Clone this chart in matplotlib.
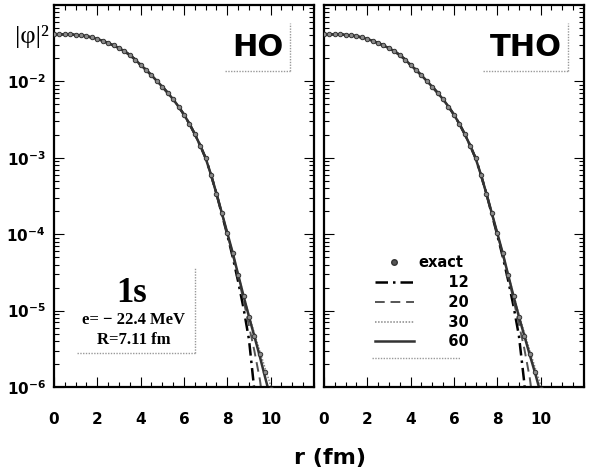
import numpy as np
import matplotlib.pyplot as plt
from matplotlib.ticker import MultipleLocator, LogLocator, NullFormatter
from matplotlib.lines import Line2D

plt.rcParams['font.family'] = 'DejaVu Sans'
plt.rcParams['font.weight'] = 'bold'
plt.rcParams['mathtext.default'] = 'bf'

# exact |phi|^2 (log10), sampled every 0.25 fm from 0 to 10 fm
r_exact = np.arange(0, 10.01, 0.25)
log_exact = [-1.382, -1.383, -1.384, -1.386, -1.391, -1.398, -1.410, -1.425,
             -1.445, -1.470, -1.498, -1.530, -1.565, -1.605, -1.655, -1.715,
             -1.785, -1.850, -1.920, -1.995, -2.070, -2.150, -2.235, -2.330,
             -2.435, -2.555, -2.690, -2.840, -3.005, -3.225, -3.470, -3.725,
             -3.985, -4.245, -4.530, -4.810, -5.080, -5.330, -5.570, -5.800,
             -6.030]

# expansions agree with exact up to 7.5 fm, tails
r_tail = [7.75, 8.0, 8.25, 8.5, 8.75, 9.0, 9.25, 9.5, 9.75, 10.0, 10.25, 10.5]
ho_tails = {
    '12': [-3.74, -4.01, -4.30, -4.62, -4.97, -5.38, -6.05, -7.0],
    '20': [-3.73, -4.00, -4.27, -4.56, -4.87, -5.20, -5.53, -5.90, -6.40],
    '30': [-3.72, -3.98, -4.24, -4.52, -4.80, -5.06, -5.30, -5.53, -5.76, -5.98, -6.25],
    '60': [-3.725, -3.985, -4.245, -4.53, -4.81, -5.08, -5.34, -5.60, -5.88, -6.15],
}
tho_tails = {
    '12': [-3.74, -4.01, -4.29, -4.60, -4.94, -5.33, -5.95, -6.9],
    '20': [-3.73, -3.99, -4.26, -4.55, -4.86, -5.18, -5.50, -5.88, -6.40],
    '30': [-3.72, -3.98, -4.24, -4.52, -4.79, -5.05, -5.29, -5.52, -5.75, -5.97, -6.25],
    '60': [-3.725, -3.985, -4.245, -4.53, -4.81, -5.08, -5.33, -5.58, -5.82, -6.08],
}
n_core = 31  # points 0..7.5 fm shared with exact

basis_sizes = ['12', '20', '30', '60']
line_styles = {
    '12': dict(color='black', lw=1.8, ls=(0, (5, 2, 1, 2))),
    '20': dict(color='#555555', lw=1.4, ls=(0, (5, 3))),
    '30': dict(color='#888888', lw=1.1, ls=(0, (1, 1))),
    '60': dict(color='#333333', lw=1.8, ls='-'),
}

ytick_vals = [1e-6, 1e-5, 1e-4, 1e-3, 1e-2]
ytick_labels = [r'$10^{-6}$', r'$10^{-5}$', r'$10^{-4}$', r'$10^{-3}$', r'$10^{-2}$']
xtick_vals = [0, 2, 4, 6, 8, 10]

fig = plt.figure(figsize=(5.9, 4.7), dpi=100)
ax1 = fig.add_axes([0.0915, 0.1766, 0.4407, 0.8128])
ax2 = fig.add_axes([0.549, 0.1766, 0.4407, 0.8128])


def corner_box(ax, x0, x1, y0, y1):
    # only right and bottom edges are drawn, dotted grey
    ax.plot([x1, x1], [y0, y1], transform=ax.transAxes, color='#999999',
            lw=1, ls=(0, (1, 1)), clip_on=False)
    ax.plot([x0, x1], [y0, y0], transform=ax.transAxes, color='#999999',
            lw=1, ls=(0, (1, 1)), clip_on=False)


for ax, tails in [(ax1, ho_tails), (ax2, tho_tails)]:
    ax.set_yscale('log')
    for n in basis_sizes:
        r = list(r_exact[:n_core]) + r_tail[:len(tails[n])]
        y = 10 ** np.array(log_exact[:n_core] + tails[n])
        ax.plot(r, y, label=n, **line_styles[n])
    ax.plot(r_exact, 10 ** np.array(log_exact), 'o', ms=3.2,
            mfc='#8a8a8a', mec='#333333', mew=0.7, label='exact', zorder=5)
    ax.set_xlim(0, 12)
    ax.set_ylim(1e-6, 1e-1)
    ax.set_xticks(xtick_vals)
    ax.xaxis.set_minor_locator(MultipleLocator(0.5))
    ax.set_yticks(ytick_vals)
    ax.yaxis.set_minor_locator(LogLocator(base=10, subs=np.arange(2, 10)))
    ax.yaxis.set_minor_formatter(NullFormatter())
    ax.tick_params(which='both', direction='in', top=True, right=True, width=0.8)
    ax.tick_params(which='major', length=7, labelsize=11, pad=18)
    ax.tick_params(which='minor', length=3.5)
    ax.tick_params(axis='y', which='major', pad=6)
    for s in ax.spines.values():
        s.set_linewidth(1.6)

ax1.set_yticklabels(ytick_labels)
ax2.set_yticklabels([])

# panel titles
ax1.text(0.785, 0.89, 'HO', transform=ax1.transAxes, ha='center', va='center',
         fontsize=22, fontweight='bold')
corner_box(ax1, 0.658, 0.908, 0.827, 0.953)
ax2.text(0.775, 0.89, 'THO', transform=ax2.transAxes, ha='center', va='center',
         fontsize=22, fontweight='bold')
corner_box(ax2, 0.612, 0.938, 0.827, 0.953)

# state info
serif = 'Liberation Serif'
ax1.text(0.30, 0.246, '1s', transform=ax1.transAxes, ha='center', va='center',
         fontsize=25, fontweight='bold', family=serif)
ax1.text(0.305, 0.175, 'e= \u2212 22.4 MeV', transform=ax1.transAxes, ha='center',
         va='center', fontsize=12, fontweight='bold', family=serif)
ax1.text(0.305, 0.123, 'R=7.11 fm', transform=ax1.transAxes, ha='center',
         va='center', fontsize=12, fontweight='bold', family=serif)
corner_box(ax1, 0.088, 0.542, 0.089, 0.312)

# legend
handles = [Line2D([], [], ls='none', marker='o', ms=4, mfc='#555555', mec='#333333')]
labels = ['exact']
for n in basis_sizes:
    handles.append(Line2D([], [], **line_styles[n]))
    labels.append('\u2007\u2007\u2007' + n)
ax2.legend(handles, labels, loc='upper left', bbox_to_anchor=(0.195, 0.345),
           frameon=False, handlelength=2.7, handletextpad=0.3,
           labelspacing=0.33, borderpad=0, borderaxespad=0, numpoints=1,
           prop={'weight': 'bold', 'size': 10.5})
ax2.plot([0.185, 0.523], [0.076, 0.076], transform=ax2.transAxes,
         color='#999999', lw=1, ls=(0, (1, 1)))

fig.text(0.025, 0.922, '|\u03c6|\u00b2', fontsize=19, family='Liberation Serif',
         ha='left', va='center', fontweight='normal')
fig.text(0.56, 0.025, 'r (fm)', ha='center', va='center', fontsize=16,
         fontweight='bold')

fig.savefig('out.png', dpi=100)
